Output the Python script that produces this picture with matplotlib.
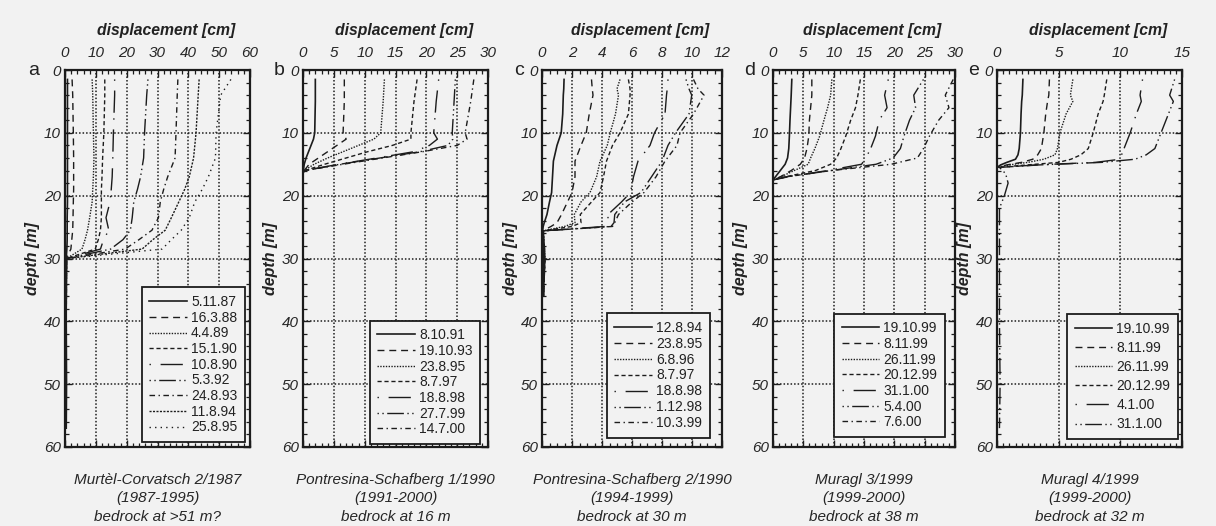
import numpy as np
import matplotlib.pyplot as plt
from matplotlib.ticker import MultipleLocator

plt.rcParams['font.family'] = ['Liberation Sans', 'DejaVu Sans']
plt.rcParams['font.style'] = 'italic'

BG = '#f2f2f2'
INK = '#1c1c1c'
nan = np.nan

# --- Murtel-Corvatsch 2/1987 -------------------------------------------------
a_depth = [1.5, 4, 10, 14, 17, 19, 21, 23.5, 25.5, 27, 28.5, 30, 40, 50, 57]
a_dates = ['5.11.87', '16.3.88', '4.4.89', '15.1.90', '10.8.90',
           '5.3.92', '24.8.93', '11.8.94', '25.8.95']
a_disp = [
    [0.8, 0.8, 0.8, 0.8, 0.8, 0.8, 0.8, 0.7, 0.7, 0.7, 0.6, 0.4, 0.4, 0.5, 0.4],
    [2.3, 2.5, 2.7, 2.8, 2.8, 2.8, 2.7, 2.6, 2.5, 2.2, 1.9, 0.4, 0.4, 0.4, 0.4],
    [8.8, 9.0, 9.2, 9.4, 9.2, 9.0, 8.8, 8.0, 7.3, 6.5, 5.5, 0.5, 0.4, 0.4, 0.4],
    [12.9, 12.9, 12.6, 12.2, 12.0, 11.8, 11.8, 11.8, 11.5, 10.8, 9.8, 0.5, 0.4, 0.4, 0.4],
    [16.1, 16.1, 15.7, 15.5, 15.3, 15.0, 14.6, 13.3, 14.2, 12.5, 11.5, 0.5, 0.4, 0.4, 0.4],
    [26.9, 26.5, 25.8, 25.5, 24.5, 23.5, 22.3, 21.8, 21.2, 18.8, 14.8, 0.5, 0.4, 0.4, 0.4],
    [36.6, 36.4, 36.0, 35.7, 33.3, 32.0, 30.9, 30.3, 28.2, 24.0, 19.5, 0.5, 0.4, 0.4, 0.4],
    [43.5, 43.2, 42.5, 41.7, 40.3, 38.8, 36.9, 34.5, 32.5, 28.5, 25.0, 0.5, 0.4, 0.4, 0.4],
    [53.8, 50.5, 49.0, 48.8, 46.5, 44.5, 42.1, 40.3, 37.7, 34.5, 31.5, 0.5, 0.4, 0.4, 0.4],
]

# --- Pontresina-Schafberg 1/1990 ---------------------------------------------
b_depth = [1.5, 5, 10, 11, 12, 13, 14, 15, 16, 16.5]
b_dates = ['8.10.91', '19.10.93', '23.8.95', '8.7.97', '18.8.98', '27.7.99', '14.7.00']
b_disp = [
    [2.0, 2.0, 1.9, 1.7, 1.3, 0.9, 0.5, 0.2, 0.05, 0.0],
    [6.7, 6.7, 6.5, 7.0, 5.5, 4.0, 2.5, 1.0, 0.2, 0.0],
    [13.2, 13.0, 12.6, 11.5, 9.0, 6.5, 4.0, 1.8, 0.2, 0.0],
    [18.5, 18.0, 17.5, 17.5, 14.5, 10.5, 7.0, 3.5, 0.3, 0.0],
    [22.0, 21.6, 21.2, 21.8, 20.5, 18.0, 12.0, 5.8, 0.3, 0.0],
    [24.7, 24.5, 24.2, 24.3, 23.5, 19.0, 12.5, 6.0, 0.3, 0.0],
    [27.7, 27.2, 26.3, 26.6, 25.0, 19.4, 12.9, 6.5, 0.3, 0.0],
]

# --- Pontresina-Schafberg 2/1990 ---------------------------------------------
c_depth = [1.5, 3, 4, 7, 10, 12, 14.5, 17, 19.5, 21, 23, 24.3, 24.9, 25.6, 30, 36]
c_dates = ['12.8.94', '23.8.95', '6.8.96', '8.7.97', '18.8.98', '1.12.98', '10.3.99']
c_disp = [
    [1.47, 1.45, 1.42, 1.38, 1.28, 1.0, 0.76, 0.7, 0.64, 0.5, 0.33, 0.15, 0.08, 0.04, 0.12, 0.08],
    [3.3, 3.35, 3.4, 3.15, 2.95, 2.6, 2.2, 2.2, 2.0, 1.7, 1.3, 1.0, 0.6, 0.05, 0.15, 0.1],
    [5.2, 5.0, 5.1, 4.9, 4.55, 4.35, 3.87, 3.64, 3.2, 2.6, 2.15, 2.2, 1.5, 0.05, 0.15, 0.1],
    [5.76, 5.87, 5.87, 5.76, 5.2, 4.7, 4.3, 4.1, 3.87, 3.3, 2.55, 2.6, 2.0, 0.05, 0.15, 0.1],
    [8.4, 8.35, 8.3, 8.2, 7.5, 7.2, 6.4, 6.1, 5.9, 5.3, 4.4, 4.4, 4.2, 0.1, 0.2, 0.1],
    [9.6, 9.8, 9.98, 9.8, 8.9, 8.4, 8.0, 7.3, 6.6, 5.5, 4.85, 4.8, 4.6, 0.1, 0.2, 0.1],
    [10.1, 10.4, 10.8, 10.1, 9.2, 9.0, 8.2, 7.6, 6.8, 6.0, 5.1, 4.85, 4.7, 0.1, 0.2, 0.1],
]

# --- Muragl 3/1999 ------------------------------------------------------------
d_depth = [1.5, 4, 6, 8, 10.5, 12.5, 14, 15, 16, 17, 17.5]
d_dates = ['19.10.99', '8.11.99', '26.11.99', '20.12.99', '31.1.00', '5.4.00', '7.6.00']
d_disp = [
    [3.1, 3.0, 2.9, 2.8, 2.7, 2.6, 2.4, 2.0, 1.2, 0.4, 0.0],
    [6.4, 6.4, 6.2, 6.0, 5.9, 5.6, 5.2, 4.5, 3.0, 1.2, 0.0],
    [9.7, 9.5, 9.0, 8.4, 7.7, 6.9, 6.2, 5.8, 3.5, 1.3, 0.0],
    [14.4, 14.0, 13.6, 12.8, 12.0, 11.2, 10.5, 9.5, 7.0, 2.0, 0.0],
    [19.0, 18.4, 18.8, 17.5, 16.9, 16.1, 15.3, 14.6, 9.0, 2.5, 0.0],
    [24.8, 23.2, 23.5, 22.5, 21.6, 21.0, 19.8, 17.0, 9.6, 2.2, 0.0],
    [29.7, 28.4, 29.0, 27.3, 25.8, 24.8, 23.8, 19.5, 9.6, 2.2, 0.0],
]

# --- Muragl 4/1999 ------------------------------------------------------------
e_depth = [1.5, 4, 5, 7, 10, 12.5, 13.5, 14.2, 14.7, 15.1, 15.5,
           16.5, 18, 20, 22, 30, 40, 50, 57]
e_dates = ['19.10.99', '8.11.99', '26.11.99', '20.12.99', '4.1.00', '31.1.00']
e_disp = [
    [2.1, 2.05, 2.0, 1.95, 1.9, 1.8, 1.7, 1.5, 0.8, 0.3, 0.0] + [nan] * 8,
    [4.25, 4.2, 4.1, 3.95, 3.8, 3.6, 3.3, 2.9, 2.0, 0.8, 0.0] + [nan] * 8,
    [6.15, 5.95, 6.15, 5.6, 5.1, 4.9, 4.7, 3.8, 2.5, 1.0, 0.0] + [nan] * 8,
    [8.9, 8.7, 8.6, 8.2, 7.8, 7.4, 6.8, 6.0, 5.0, 2.5, 0.0] + [nan] * 8,
    [11.8, 11.6, 11.7, 11.3, 10.8, 10.3, 10.1, 10.0, 8.0, 3.3, 0.1] + [nan] * 8,
    [14.4, 14.0, 14.3, 13.9, 13.3, 12.8, 12.1, 11.2, 8.5, 3.5, 0.2,
     0.7, 0.9, 0.6, 0.2, 0.2, 0.2, 0.25, 0.2],
]

captions = [
    'Murtèl-Corvatsch 2/1987\n(1987-1995)\nbedrock at >51 m?',
    'Pontresina-Schafberg 1/1990\n(1991-2000)\nbedrock at 16 m',
    'Pontresina-Schafberg 2/1990\n(1994-1999)\nbedrock at 30 m',
    'Muragl 3/1999\n(1999-2000)\nbedrock at 38 m',
    'Muragl 4/1999\n(1999-2000)\nbedrock at 32 m',
]

DASHES = {
    'solid': '-',
    'long': (0, (5, 3.5)),
    'dot': (0, (1, 1)),
    'short': (0, (3, 2)),
    'dotlong': (0, (1, 7, 16, 4)),
    'dotdotlong': (0, (1, 2.5, 1, 2.5, 12, 2.5)),
    'dashdot': (0, (4, 2.5, 1, 2.5)),
    'fine': (0, (1.5, 1)),
    'sparse': (0, (1, 3)),
}
STYLE_ORDER = ['solid', 'long', 'dot', 'short', 'dotlong', 'dotdotlong', 'dashdot']

W, H = 1216, 526
TOP, BOTTOM = 70, 447

# left/right edge of each axes in pixels, x range, ticks, legend anchor
panels = [
    dict(letter='a', depth=a_depth, disp=a_disp, dates=a_dates,
         styles=STYLE_ORDER + ['fine', 'sparse'], x0=65, x1=250, xmax=60,
         major=10, minor=2, anchor=(0.973, 0.013), spacing=0.12, lpad=26),
    dict(letter='b', depth=b_depth, disp=b_disp, dates=b_dates,
         styles=STYLE_ORDER, x0=303, x1=488, xmax=30,
         major=5, minor=1, anchor=(0.957, 0.008), spacing=0.12, lpad=18),
    dict(letter='c', depth=c_depth, disp=c_disp, dates=c_dates,
         styles=STYLE_ORDER, x0=542, x1=722, xmax=12,
         major=2, minor=0.5, anchor=(0.933, 0.024), spacing=0.14, lpad=18),
    dict(letter='d', depth=d_depth, disp=d_disp, dates=d_dates,
         styles=STYLE_ORDER, x0=773, x1=955, xmax=30,
         major=5, minor=1, anchor=(0.945, 0.027), spacing=0.12, lpad=18),
    dict(letter='e', depth=e_depth, disp=e_disp, dates=e_dates,
         styles=STYLE_ORDER[:5] + ['dotdotlong'], x0=997, x1=1182, xmax=15,
         major=5, minor=0.5, anchor=(0.978, 0.021), spacing=0.37, lpad=18),
]

fig = plt.figure(figsize=(W / 100, H / 100), dpi=100, facecolor=BG)

for p, caption in zip(panels, captions):
    ax = fig.add_axes([p['x0'] / W, 1 - BOTTOM / H,
                       (p['x1'] - p['x0']) / W, (BOTTOM - TOP) / H])
    ax.set_facecolor(BG)

    for vals, date, st in zip(p['disp'], p['dates'], p['styles']):
        lw = 1.2 if st == 'solid' else 1.0
        ax.plot(vals, p['depth'], color=INK, lw=lw, linestyle=DASHES[st], label=date)

    ax.set_xlim(0, p['xmax'])
    ax.set_ylim(60, 0)
    ax.xaxis.set_major_locator(MultipleLocator(p['major']))
    ax.xaxis.set_minor_locator(MultipleLocator(p['minor']))
    ax.yaxis.set_major_locator(MultipleLocator(10))
    ax.yaxis.set_minor_locator(MultipleLocator(2))
    ax.xaxis.tick_top()
    ax.tick_params(which='both', direction='in', top=True, bottom=True,
                   left=True, right=True, labeltop=True, labelbottom=False,
                   color=INK, labelcolor='#262626', labelsize=11)
    ax.tick_params(which='major', length=5, width=1.0)
    ax.tick_params(which='minor', length=3, width=0.9)
    ax.tick_params(axis='x', pad=7)
    ax.tick_params(axis='y', pad=3)
    ax.grid(True, which='major', color=INK, lw=1.1, linestyle=(0, (1, 1.3)))
    ax.set_axisbelow(True)
    for sp in ax.spines.values():
        sp.set_linewidth(1.6)
        sp.set_color(INK)

    ax.text(0.545, 1 + 39 / (BOTTOM - TOP), 'displacement [cm]',
            transform=ax.transAxes, ha='center', va='center',
            fontsize=11.3, fontweight='bold', color='#222222')
    ax.annotate('depth [m]', xy=(0, 0.5), xycoords='axes fraction',
                xytext=(-32, 0), textcoords='offset pixels', rotation=90,
                ha='center', va='center', fontsize=11.5, fontweight='bold',
                color='#222222')
    ax.annotate(p['letter'], xy=(0, 1), xycoords='axes fraction',
                xytext=(-p['lpad'], -5), textcoords='offset pixels',
                ha='right', va='baseline', fontsize=14, fontstyle='normal',
                color='#222222')
    ax.annotate(caption, xy=(0.5, 0), xycoords='axes fraction',
                xytext=(0, -18.5), textcoords='offset points', ha='center',
                va='top', fontsize=11, linespacing=1.43, color='#262626')

    leg = ax.legend(loc='lower right', bbox_to_anchor=p['anchor'],
                    borderaxespad=0, fancybox=False, framealpha=1,
                    facecolor=BG, edgecolor=INK, handlelength=2.7,
                    handletextpad=0.3, labelspacing=p['spacing'],
                    borderpad=0.55, prop={'size': 10, 'style': 'normal'})
    leg.get_frame().set_linewidth(1.3)
    for t in leg.get_texts():
        t.set_color('#222222')

fig.savefig('out.png', dpi=100, facecolor=BG)
